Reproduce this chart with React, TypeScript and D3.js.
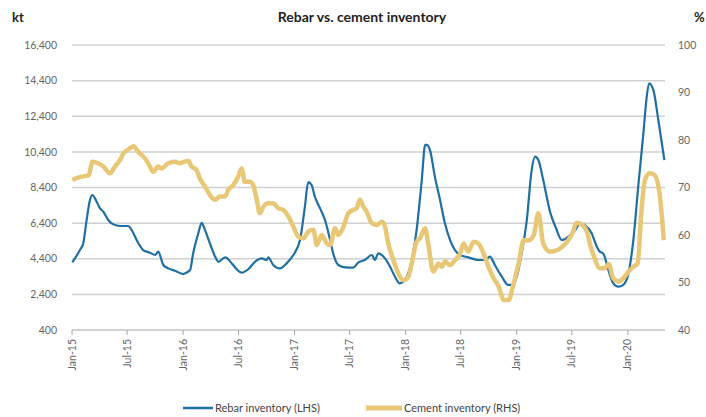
import React from 'react';
import * as d3 from 'd3';

const width = 706;
const height = 417;

// rebar inventory, kt (LHS)
const rebarDates = [
  '2015-01-02', '2015-01-27', '2015-02-07', '2015-02-18', '2015-03-01', '2015-03-09', '2015-03-23', '2015-04-03',
  '2015-04-14', '2015-04-30', '2015-05-17', '2015-06-08', '2015-07-05', '2015-07-16', '2015-08-07', '2015-08-23',
  '2015-09-14', '2015-10-01', '2015-10-11', '2015-10-28', '2015-11-13', '2015-12-05', '2016-01-02', '2016-01-07',
  '2016-01-24', '2016-02-03', '2016-02-20', '2016-03-02', '2016-03-13', '2016-03-29', '2016-04-15', '2016-04-26',
  '2016-05-18', '2016-06-09', '2016-06-25', '2016-07-11', '2016-08-02', '2016-08-24', '2016-09-15', '2016-10-02',
  '2016-10-07', '2016-10-23', '2016-11-14', '2016-12-06', '2016-12-28', '2017-01-19', '2017-02-04', '2017-02-15',
  '2017-02-26', '2017-03-09', '2017-03-26', '2017-04-11', '2017-04-28', '2017-05-08', '2017-05-25', '2017-06-16',
  '2017-07-13', '2017-07-29', '2017-08-20', '2017-09-12', '2017-09-22', '2017-10-03', '2017-10-25', '2017-11-11',
  '2017-11-27', '2017-12-13', '2017-12-30', '2018-01-21', '2018-02-06', '2018-02-23', '2018-03-06', '2018-03-11',
  '2018-03-22', '2018-04-07', '2018-04-24', '2018-05-10', '2018-05-27', '2018-06-12', '2018-06-29', '2018-07-26',
  '2018-08-28', '2018-09-19', '2018-10-05', '2018-10-21', '2018-11-13', '2018-12-04', '2018-12-17', '2019-01-01',
  '2019-01-17', '2019-02-03', '2019-02-19', '2019-03-02', '2019-03-13', '2019-03-29', '2019-04-21', '2019-05-08',
  '2019-05-29', '2019-06-20', '2019-07-12', '2019-07-28', '2019-08-13', '2019-09-04', '2019-09-21', '2019-10-01',
  '2019-10-12', '2019-10-29', '2019-11-14', '2019-12-01', '2019-12-17', '2020-01-03', '2020-01-19', '2020-02-04',
  '2020-02-21', '2020-03-03', '2020-03-11', '2020-03-25', '2020-04-10', '2020-04-30',
];
const rebarValues = [
  4200, 4890, 5270, 6575, 7700, 7980, 7600, 7230,
  7040, 6575, 6330, 6240, 6240, 6010, 5270, 4890,
  4740, 4610, 4800, 4050, 3860, 3730, 3540, 3580,
  3770, 4700, 5830, 6420, 6010, 5270, 4520, 4230,
  4480, 4140, 3810, 3620, 3810, 4230, 4420, 4330,
  4480, 4050, 3860, 4140, 4610, 5450, 7320, 8700,
  8540, 7880, 7230, 6575, 5450, 4700, 4050, 3920,
  3900, 4180, 4330, 4610, 4330, 4700, 4420, 3950,
  3390, 3020, 3210, 4330, 6010, 8820, 10790, 10790,
  10500, 9010, 7700, 6390, 5450, 4890, 4610, 4480,
  4330, 4330, 4520, 4050, 3390, 2930, 2930, 3390,
  4700, 6575, 9380, 10130, 9940, 8820, 7000, 6200,
  5450, 5640, 6010, 6390, 6290, 5830, 5080, 4800,
  4700, 3770, 3020, 2830, 2930, 3580, 5450, 8450,
  11440, 13500, 14250, 13870, 12190, 9940,
];

// cement inventory, % (RHS)
const cementDates = [
  '2015-01-02', '2015-01-21', '2015-02-12', '2015-02-25', '2015-03-09', '2015-03-28', '2015-04-14', '2015-05-06',
  '2015-05-22', '2015-06-08', '2015-06-19', '2015-07-05', '2015-07-22', '2015-08-07', '2015-08-29', '2015-09-14',
  '2015-09-25', '2015-10-11', '2015-10-22', '2015-11-13', '2015-12-05', '2015-12-21', '2016-01-07', '2016-01-18',
  '2016-01-29', '2016-02-14', '2016-02-25', '2016-03-13', '2016-03-29', '2016-04-15', '2016-05-01', '2016-05-18',
  '2016-05-28', '2016-06-14', '2016-06-30', '2016-07-11', '2016-07-22', '2016-08-07', '2016-08-18', '2016-08-30',
  '2016-09-09', '2016-09-21', '2016-10-07', '2016-10-23', '2016-11-09', '2016-11-25', '2016-12-12', '2016-12-28',
  '2017-01-14', '2017-01-30', '2017-02-15', '2017-03-04', '2017-03-15', '2017-03-31', '2017-04-17', '2017-04-28',
  '2017-05-14', '2017-05-25', '2017-06-11', '2017-06-27', '2017-07-13', '2017-07-24', '2017-08-04', '2017-08-15',
  '2017-08-26', '2017-09-12', '2017-09-28', '2017-10-15', '2017-10-25', '2017-11-05', '2017-11-22', '2017-12-08',
  '2017-12-24', '2018-01-10', '2018-01-21', '2018-02-06', '2018-02-17', '2018-03-06', '2018-03-16', '2018-04-02',
  '2018-04-19', '2018-04-30', '2018-05-10', '2018-05-27', '2018-06-12', '2018-06-29', '2018-07-10', '2018-07-26',
  '2018-08-12', '2018-08-28', '2018-09-14', '2018-09-30', '2018-10-17', '2018-11-03', '2018-11-19', '2018-12-05',
  '2018-12-22', '2019-01-07', '2019-01-24', '2019-02-09', '2019-02-26', '2019-03-13', '2019-03-29', '2019-04-21',
  '2019-05-14', '2019-05-30', '2019-06-16', '2019-07-03', '2019-07-17', '2019-08-05', '2019-08-21', '2019-09-01',
  '2019-09-12', '2019-10-01', '2019-10-17', '2019-10-30', '2019-11-14', '2019-12-01', '2019-12-17', '2020-01-03',
  '2020-01-19', '2020-02-02', '2020-02-15', '2020-02-26', '2020-03-13', '2020-03-29', '2020-04-14', '2020-04-28',
];
const cementValues = [
  71.6, 72.1, 72.4, 72.6, 75.4, 75.1, 74.4, 73.0,
  74.4, 75.8, 77.2, 78.0, 78.7, 77.5, 76.1, 74.4,
  73.3, 74.4, 74.0, 75.1, 75.4, 75.1, 75.5, 75.6,
  74.4, 73.7, 71.9, 70.2, 68.4, 67.4, 68.1, 68.1,
  69.5, 70.5, 72.3, 74.0, 71.2, 71.2, 70.5, 67.4,
  64.6, 66.0, 66.7, 66.7, 65.6, 65.3, 63.9, 61.8,
  59.6, 59.3, 60.7, 61.1, 57.9, 60.0, 58.2, 57.9,
  61.4, 60.0, 61.8, 64.6, 65.3, 65.6, 67.4, 66.0,
  64.9, 62.5, 62.1, 62.8, 61.8, 58.2, 54.7, 51.9,
  50.5, 51.2, 54.0, 58.6, 59.3, 61.4, 58.2, 52.3,
  54.0, 53.3, 54.4, 53.7, 54.7, 56.1, 58.2, 56.5,
  58.6, 58.2, 56.1, 53.3, 50.9, 49.1, 46.3, 46.3,
  49.8, 54.0, 58.9, 58.9, 60.0, 64.6, 58.2, 56.5,
  56.8, 57.5, 58.6, 60.4, 62.6, 62.1, 60.4, 57.5,
  55.4, 53.0, 53.0, 53.9, 50.9, 50.2, 50.9, 52.3,
  53.3, 54.0, 65.3, 71.6, 73.0, 72.6, 68.8, 58.9,
];

const leftTicks = [400, 2400, 4400, 6400, 8400, 10400, 12400, 14400, 16400];
const rightTicks = [40, 50, 60, 70, 80, 90, 100];

const blue = '#1f6fa3';
const tan = '#e8c877';
const font = 'Lato, "Open Sans", sans-serif';

const parse = d3.timeParse('%Y-%m-%d');

const x = d3.scaleTime()
  .domain([new Date(2015, 0, 1), new Date(2020, 4, 2)])
  .range([72, 665]);
const yL = d3.scaleLinear().domain([400, 16400]).range([330, 45]);
const yR = d3.scaleLinear().domain([40, 100]).range([330, 45]);

const rebar = rebarDates.map((d, i) => ({ date: parse(d), v: rebarValues[i] }));
const cement = cementDates.map((d, i) => ({ date: parse(d), v: cementValues[i] }));

const rebarLine = d3.line<any>()
  .x(d => x(d.date))
  .y(d => yL(d.v))
  .curve(d3.curveMonotoneX);
const cementLine = d3.line<any>()
  .x(d => x(d.date))
  .y(d => yR(d.v))
  .curve(d3.curveMonotoneX);

const xTicks = d3.timeMonth.every(6)!.range(new Date(2015, 0, 1), new Date(2020, 1, 1));
const fmtDate = d3.timeFormat('%b-%y');
const fmtNum = d3.format(',');

export default function App() {
  const [x0, x1] = x.range();
  return (
    <svg width={width} height={height} style={{ position: 'absolute', left: 0, top: 0, background: '#fff' }}>
      <text x={12} y={22} fontFamily={font} fontWeight="bold" fontSize={13} fill="#222">kt</text>
      <text x={362} y={22} textAnchor="middle" fontFamily={font} fontWeight="bold" fontSize={14} fill="#222">
        Rebar vs. cement inventory
      </text>
      <text x={694} y={22} fontFamily={font} fontWeight="bold" fontSize={13} fill="#222">%</text>

      {leftTicks.slice(1).map(t => (
        <line key={t} x1={x0} x2={x1} y1={yL(t)} y2={yL(t)} stroke="#d0d0d0" strokeWidth={1.5} />
      ))}

      {leftTicks.map(t => (
        <text key={t} x={57} y={yL(t)} dy="0.35em" textAnchor="end" fontFamily={font} fontSize={10.5} fill="#666">
          {fmtNum(t)}
        </text>
      ))}
      {rightTicks.map(t => (
        <text key={t} x={678} y={yR(t)} dy="0.35em" fontFamily={font} fontSize={10.5} fill="#666">{t}</text>
      ))}

      <line x1={x0} x2={x1} y1={330} y2={330} stroke="#a6a6a6" strokeWidth={1} />
      {xTicks.map(d => (
        <g key={+d} transform={`translate(${x(d)},330)`}>
          <line y2={5} stroke="#a6a6a6" />
          <text transform="translate(3.5,9) rotate(-90)" textAnchor="end" fontFamily={font} fontSize={10.5} fill="#666">
            {fmtDate(d)}
          </text>
        </g>
      ))}

      <path d={rebarLine(rebar) ?? ''} fill="none" stroke={blue} strokeWidth={2.2} strokeLinejoin="round" />
      <path d={cementLine(cement) ?? ''} fill="none" stroke={tan} strokeWidth={4.5} strokeLinejoin="round" />

      <line x1={183} x2={213} y1={408} y2={408} stroke={blue} strokeWidth={2.5} />
      <text x={215} y={408} dy="0.35em" fontFamily={font} fontSize={11} fill="#444">Rebar inventory (LHS)</text>
      <line x1={366} x2={402} y1={408} y2={408} stroke={tan} strokeWidth={5} />
      <text x={404} y={408} dy="0.35em" fontFamily={font} fontSize={11} fill="#444">Cement inventory (RHS)</text>
    </svg>
  );
}
